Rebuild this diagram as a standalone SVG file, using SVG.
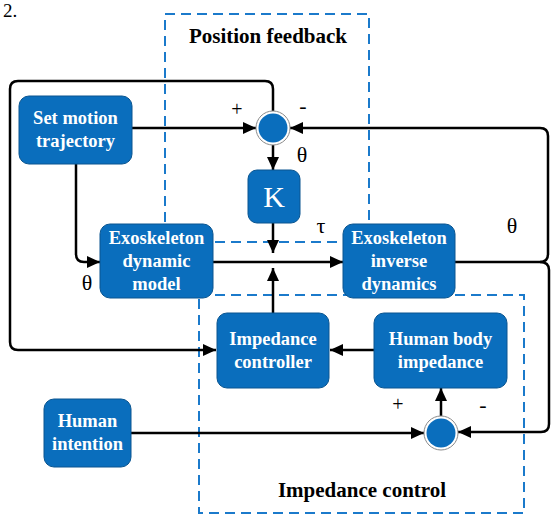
<svg xmlns="http://www.w3.org/2000/svg" width="552" height="515" viewBox="0 0 552 515">
<style>
text{font-family:"Liberation Serif","Times New Roman",serif}
.node rect{fill:#0a6ebd;stroke:#0a5590;stroke-width:1}
.nt{font-weight:bold;font-size:18.5px;fill:#ffffff;text-anchor:middle}
.title{font-weight:bold;font-size:21px;fill:#000000;text-anchor:middle}
.sym{fill:#000000;text-anchor:middle}
.dash{fill:none;stroke:#1b7acb;stroke-width:2;stroke-dasharray:10 6}
.conn path{fill:none;stroke:#000000;stroke-width:2.5}
.ring{fill:#ffffff;stroke:#8a8a8a;stroke-width:1}
.core{fill:#0a6ebd}
</style>
<defs>
<marker id="arr" markerUnits="userSpaceOnUse" markerWidth="14" markerHeight="12" refX="13" refY="6" orient="auto">
<path d="M0,0 L13,6 L0,12 z" fill="#000000"/>
</marker>
</defs>
<rect width="552" height="515" fill="#ffffff"/>
<text x="3" y="17" font-size="19" fill="#000000">2.</text>
<g id="position-feedback-box">
<rect class="dash" x="165" y="14" width="204" height="228"/>
<text class="title" x="268" y="43">Position feedback</text>
</g>
<g id="impedance-control-box">
<rect class="dash" x="199" y="295" width="325" height="218"/>
<text class="title" x="362" y="497">Impedance control</text>
</g>
<g id="connectors" class="conn">
<path d="M273,111 V89 Q273,81 265,81 H18 Q10,81 10,89 V342 Q10,350 18,350 H216" marker-end="url(#arr)"/>
<path d="M132,128 H256" marker-end="url(#arr)"/>
<path d="M76,164 V254 Q76,262 84,262 H100" marker-end="url(#arr)"/>
<path d="M455,262 H540 Q548,262 548,254 V136 Q548,128 540,128 H290" marker-end="url(#arr)"/>
<path d="M540,262 Q549,262 549,270 V424 Q549,432 541,432 H458" marker-end="url(#arr)"/>
<path d="M273,145 V170" marker-end="url(#arr)"/>
<path d="M273,223 V253" marker-end="url(#arr)"/>
<path d="M213,262 H343" marker-end="url(#arr)"/>
<path d="M273,313 V268" marker-end="url(#arr)"/>
<path d="M374,350 H330" marker-end="url(#arr)"/>
<path d="M131,433 H424" marker-end="url(#arr)"/>
<path d="M441,416 V388" marker-end="url(#arr)"/>
</g>
<g id="sum-top">
<circle class="ring" cx="273" cy="128" r="17"/>
<circle class="core" cx="273" cy="128" r="14.5"/>
</g>
<g id="sum-bottom">
<circle class="ring" cx="441" cy="433" r="17"/>
<circle class="core" cx="441" cy="433" r="14.5"/>
</g>
<g id="set-motion-trajectory" class="node">
<rect x="19" y="96" width="113" height="68" rx="10"/>
<text class="nt" x="75.5" y="124">Set motion</text>
<text class="nt" x="75.5" y="147">trajectory</text>
</g>
<g id="K" class="node">
<rect x="248" y="170" width="52" height="53" rx="9"/>
<text x="274" y="207" font-size="30" fill="#ffffff" text-anchor="middle">K</text>
</g>
<g id="exoskeleton-dynamic-model" class="node">
<rect x="100" y="224" width="113" height="74" rx="10"/>
<text class="nt" x="156.5" y="244">Exoskeleton</text>
<text class="nt" x="156.5" y="267">dynamic</text>
<text class="nt" x="156.5" y="290">model</text>
</g>
<g id="exoskeleton-inverse-dynamics" class="node">
<rect x="343" y="224" width="112" height="74" rx="10"/>
<text class="nt" x="399" y="244">Exoskeleton</text>
<text class="nt" x="399" y="267">inverse</text>
<text class="nt" x="399" y="290">dynamics</text>
</g>
<g id="impedance-controller" class="node">
<rect x="217" y="313" width="112" height="75" rx="10"/>
<text class="nt" x="273" y="345">Impedance</text>
<text class="nt" x="273" y="368">controller</text>
</g>
<g id="human-body-impedance" class="node">
<rect x="374" y="313" width="133" height="75" rx="10"/>
<text class="nt" x="440.5" y="345">Human body</text>
<text class="nt" x="440.5" y="368">impedance</text>
</g>
<g id="human-intention" class="node">
<rect x="44" y="399" width="87" height="68" rx="10"/>
<text class="nt" x="87.5" y="427">Human</text>
<text class="nt" x="87.5" y="450">intention</text>
</g>
<g id="labels">
<text class="sym" x="237" y="116" font-size="20">+</text>
<text class="sym" x="303" y="113" font-size="22">-</text>
<text class="sym" x="302" y="162" font-size="22">θ</text>
<text class="sym" x="321" y="233" font-size="22">τ</text>
<text class="sym" x="512" y="233" font-size="22">θ</text>
<text class="sym" x="87" y="290" font-size="22">θ</text>
<text class="sym" x="398" y="411" font-size="20">+</text>
<text class="sym" x="483" y="412" font-size="22">-</text>
</g>
</svg>
